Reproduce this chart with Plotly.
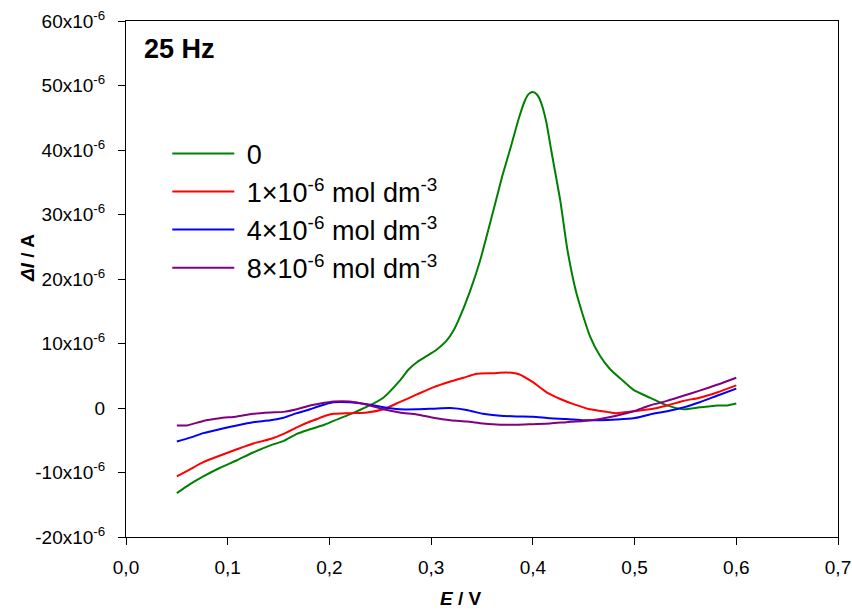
import plotly.graph_objects as go

# ─── Datos (corriente en unidades de 1e-6 A) ────────────────────────────
E_0 = [0.05, 0.063, 0.076, 0.092, 0.109, 0.125, 0.142, 0.155, 0.168, 0.181,
       0.195, 0.204, 0.220, 0.237, 0.253, 0.269, 0.278, 0.286, 0.295, 0.305,
       0.315, 0.322, 0.328, 0.338, 0.348, 0.361, 0.370, 0.378, 0.386, 0.392,
       0.396, 0.400, 0.404, 0.408, 0.413, 0.418, 0.427, 0.434, 0.443, 0.456,
       0.466, 0.476, 0.488, 0.499, 0.515, 0.532, 0.548, 0.564, 0.581, 0.591,
       0.600]
I_0 = [-13.2, -11.8, -10.6, -9.3, -8.1, -6.9, -5.8, -5.1, -4.0, -3.3,
       -2.6, -2.0, -1.0, 0.2, 1.6, 4.2, 6.0, 7.1, 8.0, 9.0,
       10.4, 12.0, 14.0, 18.0, 22.8, 30.5, 36.0, 40.3, 44.8, 47.6,
       48.7, 49.0, 48.6, 47.4, 44.5, 40.0, 32.1, 24.5, 17.7, 11.2,
       8.1, 6.0, 4.3, 2.8, 1.6, 0.4, -0.2, 0.1, 0.4, 0.4,
       0.7]

E_1 = [0.05, 0.063, 0.076, 0.092, 0.109, 0.125, 0.142, 0.155, 0.168, 0.181,
       0.188, 0.196, 0.204, 0.220, 0.237, 0.253, 0.269, 0.286, 0.302, 0.319,
       0.332, 0.345, 0.361, 0.374, 0.387, 0.400, 0.414, 0.427, 0.440, 0.456,
       0.473, 0.482, 0.499, 0.515, 0.532, 0.548, 0.564, 0.581, 0.600]
I_1 = [-10.6, -9.5, -8.4, -7.4, -6.4, -5.5, -4.8, -4.0, -3.0, -2.1,
       -1.7, -1.2, -0.9, -0.8, -0.7, -0.2, 0.9, 2.1, 3.2, 4.1,
       4.7, 5.3, 5.4, 5.5, 5.2, 4.0, 2.4, 1.4, 0.6, -0.2,
       -0.6, -0.8, -0.5, -0.2, 0.4, 1.1, 1.6, 2.4, 3.5]

E_4 = [0.05, 0.063, 0.076, 0.092, 0.109, 0.125, 0.142, 0.155, 0.168, 0.181,
       0.188, 0.204, 0.220, 0.237, 0.253, 0.269, 0.286, 0.302, 0.319, 0.335,
       0.351, 0.368, 0.384, 0.400, 0.417, 0.433, 0.450, 0.466, 0.482, 0.499,
       0.515, 0.532, 0.548, 0.564, 0.581, 0.600]
I_4 = [-5.2, -4.6, -3.9, -3.3, -2.7, -2.2, -1.9, -1.5, -0.8, -0.2,
       0.2, 0.9, 0.9, 0.6, 0.1, -0.2, -0.2, -0.1, 0.0, -0.3,
       -0.9, -1.2, -1.3, -1.35, -1.6, -1.7, -1.9, -1.9, -1.8, -1.6,
       -1.0, -0.5, 0.1, 0.9, 1.9, 3.0]

E_8 = [0.05, 0.060, 0.076, 0.092, 0.109, 0.125, 0.142, 0.155, 0.168, 0.181,
       0.188, 0.204, 0.220, 0.237, 0.253, 0.269, 0.286, 0.302, 0.319, 0.335,
       0.351, 0.368, 0.384, 0.400, 0.417, 0.433, 0.450, 0.466, 0.482, 0.499,
       0.515, 0.532, 0.548, 0.564, 0.581, 0.600]
I_8 = [-2.7, -2.7, -2.0, -1.6, -1.3, -0.9, -0.7, -0.6, -0.2, 0.4,
       0.6, 1.0, 1.0, 0.5, -0.2, -0.7, -1.0, -1.5, -1.9, -2.1,
       -2.4, -2.6, -2.6, -2.5, -2.4, -2.2, -2.0, -1.7, -1.2, -0.5,
       0.4, 1.1, 1.9, 2.7, 3.6, 4.7]

NOMBRES = ["0",
           "1×10<sup>-6</sup> mol dm<sup>-3</sup>",
           "4×10<sup>-6</sup> mol dm<sup>-3</sup>",
           "8×10<sup>-6</sup> mol dm<sup>-3</sup>"]
COLORES = ["#008000", "#FF0000", "#0000FF", "#800080"]

X_TICKS = [0.0, 0.1, 0.2, 0.3, 0.4, 0.5, 0.6, 0.7]
X_LABELS = ["0,0", "0,1", "0,2", "0,3", "0,4", "0,5", "0,6", "0,7"]
Y_TICKS = [-20, -10, 0, 10, 20, 30, 40, 50, 60]
Y_LABELS = ["-20x10<sup>-6</sup>", "-10x10<sup>-6</sup>", "0",
            "10x10<sup>-6</sup>", "20x10<sup>-6</sup>", "30x10<sup>-6</sup>",
            "40x10<sup>-6</sup>", "50x10<sup>-6</sup>", "60x10<sup>-6</sup>"]

FONT = "Liberation Sans, Arial, sans-serif"

fig = go.Figure()

for E, I, nombre, color in zip([E_0, E_1, E_4, E_8], [I_0, I_1, I_4, I_8],
                               NOMBRES, COLORES):
    fig.add_trace(go.Scatter(
        x=E, y=I, mode="lines", name="\u00a0" + nombre,
        line=dict(color=color, width=2, shape="spline", smoothing=0.6),
    ))

eje = dict(showline=True, linecolor="black", linewidth=1, mirror=True,
           ticks="outside", ticklen=7, tickcolor="black", showgrid=False,
           zeroline=False, automargin=False,
           tickfont=dict(family=FONT, size=19, color="black"))

fig.update_layout(
    width=852, height=613,
    margin=dict(l=126, r=14, t=21, b=76),
    plot_bgcolor="white", paper_bgcolor="white",
    font=dict(family=FONT, color="black"),
    xaxis=dict(range=[0, 0.7], tickvals=X_TICKS, ticktext=X_LABELS,
               ticklabelstandoff=6, **eje),
    yaxis=dict(range=[-20, 60], tickvals=Y_TICKS, ticktext=Y_LABELS,
               ticklabelstandoff=9, **eje),
    legend=dict(x=0.058, y=0.79, xanchor="left", yanchor="top",
                bgcolor="rgba(0,0,0,0)", font=dict(family=FONT, size=27),
                itemwidth=62),
    showlegend=True,
    annotations=[
        dict(text="<b>25 Hz</b>", xref="paper", yref="paper", x=0.022, y=0.945,
             xanchor="left", yanchor="middle", showarrow=False,
             font=dict(family=FONT, size=27)),
        dict(text="<b><i>E</i> / V</b>", xref="paper", yref="paper",
             x=(461 - 126) / 712, y=-0.12, xanchor="center", yanchor="middle",
             showarrow=False, font=dict(family=FONT, size=19)),
        dict(text="<b><i>ΔI</i> / A</b>", xref="paper", yref="paper",
             x=(27 - 126) / 712, y=(537 - 258) / 516, xanchor="center",
             yanchor="middle", textangle=-90, showarrow=False,
             font=dict(family=FONT, size=19)),
    ],
)

fig.write_html("out.html", config={"displayModeBar": False},
               post_script="document.body.style.margin='0';")
